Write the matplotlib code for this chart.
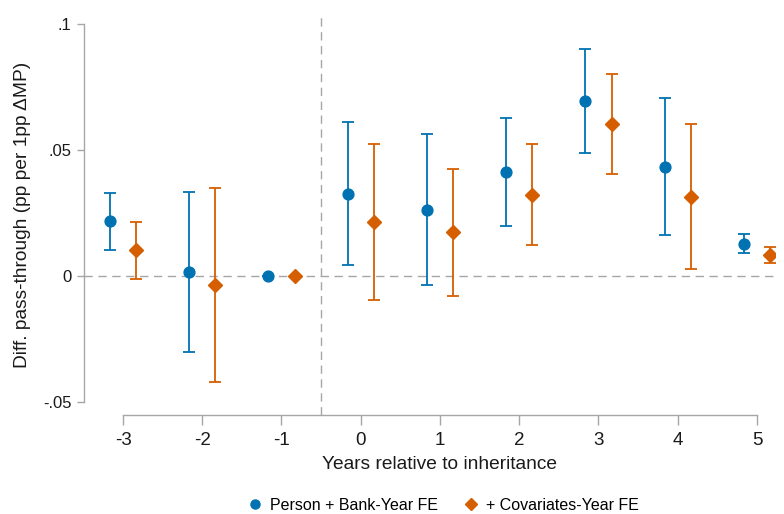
import matplotlib
matplotlib.use("Agg")
import matplotlib.pyplot as plt
from matplotlib.lines import Line2D
import numpy as np

plt.rcParams['font.family'] = ['Liberation Sans', 'DejaVu Sans']

years = [-3, -2, -1, 0, 1, 2, 3, 4, 5]
xticklabels = ["-3", "-2", "-1", "0", "1", "2", "3", "4", "5"]
yticks = [-0.05, 0, 0.05, 0.1]
yticklabels = ["-.05", "0", ".05", ".1"]

blue_est = [0.0217, 0.0017, 0.0, 0.0327, 0.0263, 0.0413, 0.0694, 0.0434, 0.0128]
blue_lo = [0.0102, -0.0302, 0.0, 0.0044, -0.0036, 0.0198, 0.0489, 0.0163, 0.0091]
blue_hi = [0.0331, 0.0335, 0.0, 0.0611, 0.0563, 0.0627, 0.0899, 0.0705, 0.0165]

orange_est = [0.0102, -0.0037, 0.0, 0.0216, 0.0173, 0.0323, 0.0602, 0.0315, 0.0085]
orange_lo = [-0.0011, -0.0422, 0.0, -0.0094, -0.0078, 0.0124, 0.0406, 0.0028, 0.0053]
orange_hi = [0.0216, 0.0348, 0.0, 0.0525, 0.0423, 0.0525, 0.0800, 0.0602, 0.0116]

blue = "#0072B2"
orange = "#D55E00"
gray = "#A6A6A6"

fig = plt.figure(figsize=(7.84, 5.14), dpi=100)
ax = fig.add_axes([84/784, 99/514, (775-84)/784, (415-14)/514])

off = 0.165
x = np.array(years, dtype=float)
be = np.array(blue_est); oe = np.array(orange_est)

ax.axhline(0, color=gray, lw=1, ls=(0, (6, 4)), zorder=1)
ax.axvline(-0.5, color=gray, lw=1, ls=(0, (6, 4)), zorder=1)

ax.errorbar(x - off, be, yerr=[be - np.array(blue_lo), np.array(blue_hi) - be],
            fmt='o', color=blue, ms=7.8, elinewidth=1.3, capsize=4, capthick=1.3, zorder=3)
ax.errorbar(x + off, oe, yerr=[oe - np.array(orange_lo), np.array(orange_hi) - oe],
            fmt='D', color=orange, ms=7.3, elinewidth=1.3, capsize=4, capthick=1.3, zorder=3)

ax.set_xlim(-3 - 39/79.25, 5 + 18/79.25)
ax.set_ylim(-0.05 - 13/2520, 0.1 + 10/2520)

ax.set_xticks(years)
ax.set_xticklabels(xticklabels, fontsize=13.5)
ax.set_yticks(yticks)
ax.set_yticklabels(yticklabels, fontsize=12)

for s in ['top', 'right']:
    ax.spines[s].set_visible(False)
ax.spines['left'].set_bounds(-0.05, 0.1)
ax.spines['bottom'].set_bounds(-3, 5)
for s in ['left', 'bottom']:
    ax.spines[s].set_color(gray)
    ax.spines[s].set_linewidth(1)
ax.tick_params(axis='both', colors=gray, labelcolor='#1a1a1a', width=1)
ax.tick_params(axis='x', length=7, pad=5)
ax.tick_params(axis='y', length=5, pad=4)

ax.set_xlabel("Years relative to inheritance", fontsize=13.8, color='#1a1a1a')
ax.xaxis.set_label_coords((440-84)/(775-84), -0.102)
ax.set_ylabel("Diff. pass-through (pp per 1pp \u0394MP)", fontsize=13.8, color='#1a1a1a')
ax.yaxis.set_label_coords(-0.077, 0.5)

handles = [Line2D([], [], ls='none', marker='o', color=blue, ms=6.5),
           Line2D([], [], ls='none', marker='D', color=orange, ms=6)]
fig.legend(handles, ["Person + Bank-Year FE", "+ Covariates-Year FE"],
           loc='center', bbox_to_anchor=(443/784, 1 - 505/514), ncol=2, frameon=False,
           fontsize=11.5, handletextpad=0.4, columnspacing=1.6, handlelength=1.0)

fig.savefig("out.png", dpi=100, facecolor='white')
